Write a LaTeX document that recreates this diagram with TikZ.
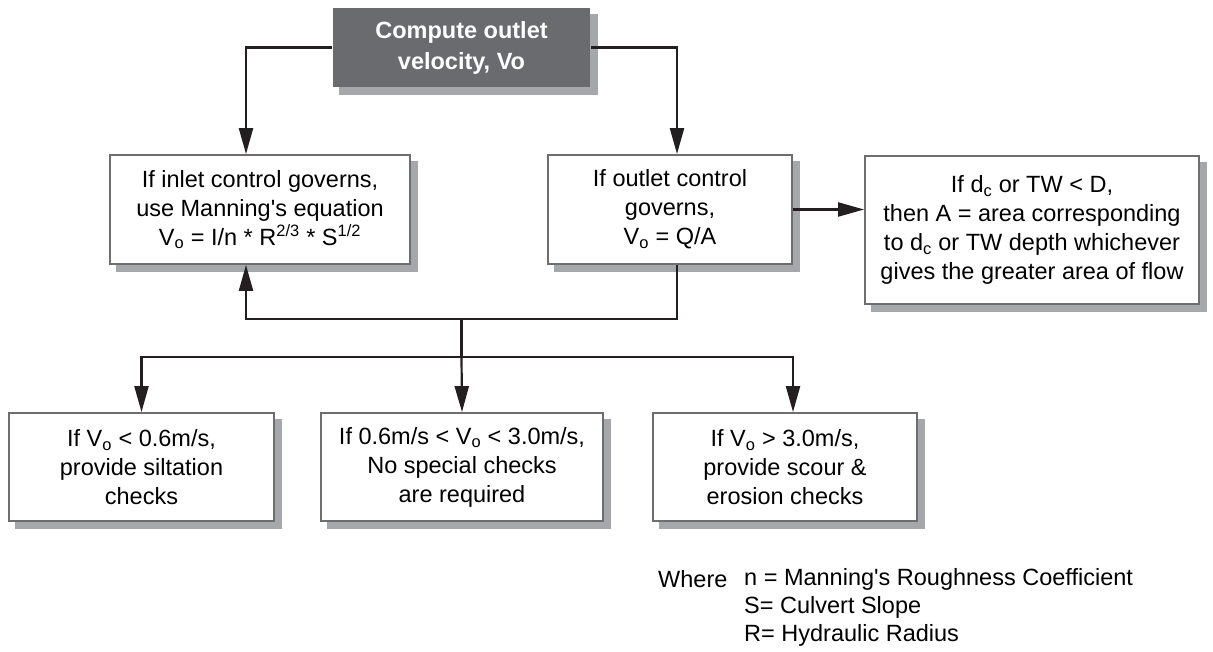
\documentclass[tikz,border=0pt]{standalone}
\usepackage{fontspec}
\setmainfont{Liberation Sans}[Ligatures=TeXOff]
\usetikzlibrary{arrows.meta,backgrounds,calc}
\definecolor{ink}{HTML}{231F20}
\definecolor{framegray}{HTML}{6D6E71}
\definecolor{castgray}{HTML}{A6A7AA}
\definecolor{headfill}{HTML}{6A6B6F}
\newcommand{\lowo}[1]{\textsubscript{#1}}
\begin{document}
\begin{tikzpicture}[x=1pt,y=-1pt,
  txt/.style={font=\fontsize{23.5}{29}\selectfont},
  box/.style={txt, draw=framegray, line width=1.8pt, fill=white, align=center,
    inner sep=0pt, minimum width=#1},
  headbox/.style={box=#1, fill=headfill, draw=none, text=white,
    font=\fontsize{23.5}{31}\selectfont\bfseries},
  conn/.style={draw=ink, line width=2.2pt},
  arr/.style={conn, -{Triangle[length=26pt,width=14pt]}},
  legend/.style={txt, inner sep=0pt, anchor=west},
  castshadow/.style={fill=castgray, draw=none}]
\useasboundingbox (0,0) rectangle (1213,652);

% boxes
\node[headbox=257pt, minimum height=79pt] (top) at (461.5,47.5) {Compute outlet\\velocity, Vo};
\node[box=300pt, minimum height=109pt] (inlet) at (260,209.5)
  {If inlet control governs,\\use Manning's equation\\V\lowo{o} = I/n * R\textsuperscript{2/3} * S\textsuperscript{1/2}};
\node[box=244pt, minimum height=109pt] (outlet) at (670,209.5)
  {If outlet control\\governs,\\V\lowo{o} = Q/A};
\node[box=334pt, minimum height=148pt] (area) at (1032,230)
  {If d\lowo{c} or TW < D,\\then A = area corresponding\\to d\lowo{c} or TW depth whichever\\gives the greater area of flow};
\node[box=265pt, minimum height=108pt] (low) at (141.5,467)
  {If V\lowo{o} < 0.6m/s,\\provide siltation\\checks};
\node[box=282pt, minimum height=108pt] (mid) at (462,467)
  {If 0.6m/s < V\lowo{o} < 3.0m/s,\\No special checks\\are required};
\node[box=264pt, minimum height=108pt] (high) at (785,467)
  {If V\lowo{o} > 3.0m/s,\\provide scour \&\\erosion checks};

% drop shadows, 7 right and 7 down, behind every box
\begin{scope}[on background layer]
  \foreach \nm in {top,inlet,outlet,area,low,mid,high}{
    \path[castshadow] ($(\nm.south west)+(7,7)$) rectangle ($(\nm.north east)+(7,7)$);
  }
\end{scope}

% connectors
\coordinate (join) at (461.5,319);
\coordinate (bus) at (461.5,357);
\draw[arr] (top.west) -| ([xshift=-14pt]inlet.north);
\draw[arr] (top.east) -| ([xshift=7pt]outlet.north);
\draw[arr] (outlet.east) -- (outlet.east -| area.west);
\draw[arr] ([xshift=7pt]outlet.south) |- (join) -| ([xshift=-14pt]inlet.south);
\draw[conn] (join) -- (bus);
\draw[arr] (bus) -| (low.north);
\draw[arr] (bus) -- (mid.north);
\draw[arr] (bus) -| ([xshift=8pt]high.north);

% legend
\node[legend] (where) at (658,579) {Where};
\node[legend] (defn) at (744,579) {n = Manning's Roughness Coefficient};
\node[legend] (defs) at (744,607) {S= Culvert Slope};
\node[legend] (defr) at (744,635) {R= Hydraulic Radius};
\end{tikzpicture}
\end{document}
